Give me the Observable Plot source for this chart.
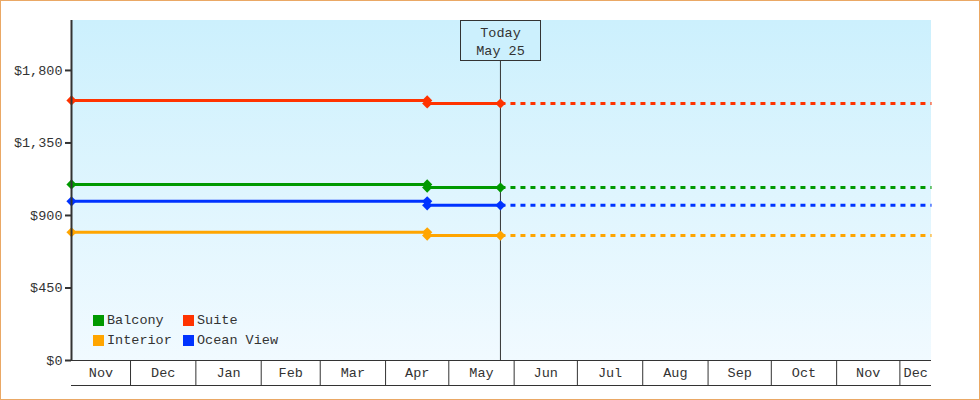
<!DOCTYPE html>
<html>
<head>
<meta charset="utf-8">
<script src="https://cdn.jsdelivr.net/npm/d3@7"></script>
<script src="https://cdn.jsdelivr.net/npm/@observablehq/plot@0.6"></script>
<style>
  html, body { margin: 0; padding: 0; background: #fff; }
  #wrap { position: relative; width: 980px; height: 400px; overflow: hidden; }
  #border { position: absolute; left: 0; top: 0; width: 980px; height: 400px; box-sizing: border-box; border: 1px solid #eaa865; pointer-events: none; }
  #legend { position: absolute; left: 93px; top: 310px; display: grid; grid-template-columns: 90px auto; font-family: "Liberation Mono", monospace; font-size: 13.5px; color: #333; }
  #legend .item { display: flex; align-items: center; height: 20px; }
  #legend .sw { width: 11px; height: 11px; margin-right: 3px; }
</style>
</head>
<body>
<div id="wrap"><div id="chart"></div><div id="legend"></div><div id="border"></div></div>
<script>
// ---- data ----
const categories = ["Balcony", "Suite", "Interior", "Ocean View"];
const colors = ["#009900", "#ff3300", "#ffa500", "#0033ff"];
const priceBefore = [1093, 1614, 796, 988];
const priceNow = [1073, 1595, 775, 963];
const startDate = "2024-11-03";
const changeDate = "2025-04-20T18:00";
const today = "2025-05-25T12:00";
const endDate = "2025-12-16";
const todayLabel = ["Today", "May 25"];
const yTicks = [0, 450, 900, 1350, 1800];
const yMax = 2110;
const monthLabels = ["Nov", "Dec", "Jan", "Feb", "Mar", "Apr", "May", "Jun", "Jul", "Aug", "Sep", "Oct", "Nov", "Dec"];
const bgTop = "#ccf0fd";
const bgBottom = "#f1faff";

// ---- derived tables ----
const D = s => new Date(s + (s.length === 10 ? "T00:00Z" : "Z"));
const x0 = D(startDate), x1 = D(endDate), xc = D(changeDate), xt = D(today);

const solid = [], dashed = [], markers = [];
categories.forEach((c, i) => {
  solid.push({c, d: x0, v: priceBefore[i]}, {c, d: xc, v: priceNow[i]}, {c, d: xt, v: priceNow[i]});
  dashed.push({c, d: xt, v: priceNow[i]}, {c, d: x1, v: priceNow[i]});
  markers.push({c, d: x0, v: priceBefore[i]}, {c, d: xc, v: priceBefore[i]}, {c, d: xc, v: priceNow[i]}, {c, d: xt, v: priceNow[i]});
});

const monthStarts = d3.utcMonth.range(d3.utcMonth.ceil(x0), x1);
const bounds = [x0, ...monthStarts, x1];
const monthMid = bounds.slice(0, -1).map((b, i) => ({
  d: new Date((+b + +bounds[i + 1]) / 2),
  label: monthLabels[i]
}));

function background(index, scales, values, dims) {
  const g = d3.create("svg:g");
  const lg = g.append("defs").append("linearGradient").attr("id", "bggrad")
    .attr("x1", 0).attr("y1", 0).attr("x2", 0).attr("y2", 1);
  lg.append("stop").attr("offset", "0%").attr("stop-color", bgTop);
  lg.append("stop").attr("offset", "100%").attr("stop-color", bgBottom);
  g.append("rect")
    .attr("x", dims.marginLeft).attr("y", dims.marginTop)
    .attr("width", dims.width - dims.marginLeft - dims.marginRight)
    .attr("height", dims.height - dims.marginTop - dims.marginBottom)
    .attr("fill", "url(#bggrad)");
  return g.node();
}

function todayBox(index, scales, values, dims) {
  const cx = Math.round(scales.x(xt)) + 0.5;
  const top = dims.marginTop + 0.5;
  const g = d3.create("svg:g");
  g.append("rect").attr("x", cx - 40).attr("y", top).attr("width", 80).attr("height", 40)
    .attr("fill", bgTop).attr("stroke", "#333").attr("stroke-width", 1);
  todayLabel.forEach((t, i) => {
    g.append("text").attr("x", cx).attr("y", top + 16 + i * 18)
      .attr("text-anchor", "middle").attr("fill", "#333").text(t);
  });
  return g.node();
}

const chart = Plot.plot({
  width: 980,
  height: 400,
  marginLeft: 71,
  marginRight: 49,
  marginTop: 20,
  marginBottom: 40,
  style: {fontFamily: "Liberation Mono, monospace", fontSize: "13.5px", color: "#333", background: "transparent"},
  x: {type: "utc", domain: [x0, x1]},
  y: {domain: [0, yMax]},
  color: {domain: categories, range: colors},
  marks: [
    background,
    Plot.ruleX([xt], {stroke: "#333", strokeWidth: 1}),
    Plot.line(solid, {x: "d", y: "v", z: "c", stroke: "c", strokeWidth: 3, curve: "step-after"}),
    Plot.line(dashed, {x: "d", y: "v", z: "c", stroke: "c", strokeWidth: 3, strokeDasharray: "5,5", strokeLinecap: "butt"}),
    Plot.dot(markers, {x: "d", y: "v", fill: "c", symbol: "diamond2", r: 4.6}),
    todayBox,
    Plot.ruleY([0], {stroke: "#333", strokeWidth: 1}),
    Plot.ruleY([0], {stroke: "#333", strokeWidth: 1, dy: 25}),
    Plot.ruleX([x0], {stroke: "#333", strokeWidth: 2}),
    Plot.axisY({ticks: yTicks, tickSize: 6, tickPadding: 3, strokeWidth: 2, tickFormat: d => "$" + d3.format(",")(d), label: null}),
    Plot.axisX({ticks: monthStarts, tickSize: 25, tickFormat: () => "", label: null, stroke: "#333"}),
    Plot.text(monthMid, {x: "d", text: "label", frameAnchor: "bottom", dy: 16, fill: "#333"})
  ]
});
document.getElementById("chart").appendChild(chart);

const legend = document.getElementById("legend");
categories.forEach((c, i) => {
  const item = document.createElement("div");
  item.className = "item";
  const sw = document.createElement("span");
  sw.className = "sw";
  sw.style.background = colors[i];
  const t = document.createElement("span");
  t.textContent = c;
  item.appendChild(sw); item.appendChild(t);
  legend.appendChild(item);
});
</script>
</body>
</html>
